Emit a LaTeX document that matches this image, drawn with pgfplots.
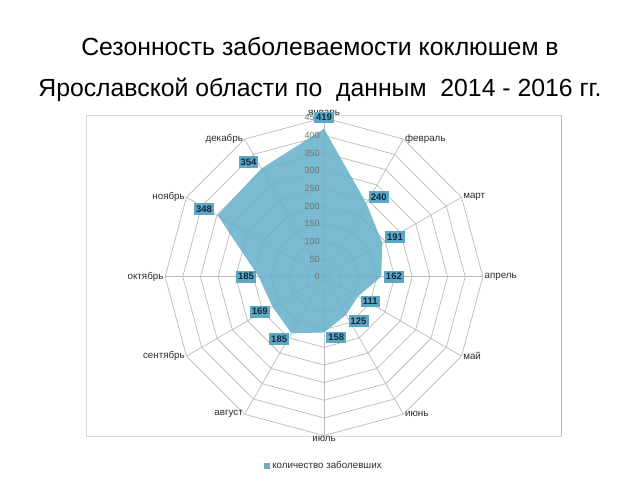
\documentclass[border=0pt]{standalone}
\usepackage{pgfplots}
\pgfplotsset{compat=1.18}
\usepackage{fontspec}
\setmainfont{Liberation Sans}
\definecolor{fillc}{RGB}{104,178,203}
\definecolor{lblc}{RGB}{92,168,194}
\definecolor{txtc}{RGB}{20,38,66}
\definecolor{gridc}{RGB}{190,190,190}
\definecolor{catc}{RGB}{45,45,45}
\begin{document}
\begin{tikzpicture}[x=1pt,y=1pt]
\fill[white] (0,0) rectangle (640,480);
% chart frame
\draw[gray!30, line width=0.8pt] (86,365) rectangle (561,44);
\draw[gray!55, line width=0.8pt] (561,365) -- (561,44);
% title
\node[align=center, font=\fontsize{24.8}{41}\selectfont, text=black] at (320,410.5)
  {Сезонность заболеваемости коклюшем в\\Ярославской области по\ \ данным\ \ 2014 - 2016 гг.};
\begin{axis}[
  at={(324pt,203.3pt)}, anchor=center,
  x=0.353pt, y=0.353pt,
  xmin=-450, xmax=450, ymin=-450, ymax=450,
  hide axis, clip=false, no markers,
  legend style={at={(0.5,-0.095)}, anchor=center, draw=none, fill=none,
    font=\fontsize{9.8}{11}\selectfont, text=catc, inner sep=0pt,
    legend cell align=left},
  legend image code/.code={\fill[fillc!90!black] (0pt,-3pt) rectangle (6pt,3pt);},
]
% spokes
\pgfplotsinvokeforeach{0,30,...,330}{
  \addplot[gridc, line width=0.75pt, data cs=polar, forget plot] coordinates {(0,0) (#1,450)};
}
% rings
\pgfplotsinvokeforeach{50,100,...,450}{
  \addplot[gridc, line width=0.75pt, data cs=polar, forget plot] coordinates {
    (90,#1) (60,#1) (30,#1) (0,#1) (-30,#1) (-60,#1) (-90,#1) (-120,#1) (-150,#1) (180,#1) (150,#1) (120,#1) (90,#1)};
}
% data
\addplot[draw=none, fill=fillc, fill opacity=0.88, data cs=polar] coordinates {
  (90,419) (60,240) (30,191) (0,162) (-30,111) (-60,125) (-90,158)
  (-120,185) (-150,169) (180,185) (150,348) (120,354) (90,419)};
\addlegendentry{количество заболевших}
% radial tick labels
\pgfplotsinvokeforeach{0,50,...,450}{
  \node[anchor=east, font=\fontsize{9}{10}\selectfont, text=black!55, inner sep=0pt] at (axis cs:-12,#1) {#1};
}
% category labels
\begin{scope}[font=\fontsize{9.8}{11}\selectfont, text=catc, inner sep=1.5pt]
\node[anchor=south, inner sep=0.5pt] at (axis cs:0,450) {январь};
\node[anchor=west] at (axis cs:225,389.7) {февраль};
\node[anchor=west] at (axis cs:389.7,225) {март};
\node[anchor=west] at (axis cs:450,0) {апрель};
\node[anchor=west] at (axis cs:389.7,-225) {май};
\node[anchor=west] at (axis cs:225,-389.7) {июнь};
\node[anchor=north, inner sep=0.5pt] at (axis cs:0,-450) {июль};
\node[anchor=east] at (axis cs:-225,-389.7) {август};
\node[anchor=east] at (axis cs:-389.7,-225) {сентябрь};
\node[anchor=east] at (axis cs:-450,0) {октябрь};
\node[anchor=east] at (axis cs:-389.7,225) {ноябрь};
\node[anchor=east] at (axis cs:-225,389.7) {декабрь};
\end{scope}
% data labels
\begin{scope}[every node/.style={fill=lblc, text=txtc, font=\bfseries\fontsize{9.5}{10}\selectfont, inner xsep=2pt, inner ysep=2.5pt}]
\node at (axis cs:0,451) {419};
\node at (axis cs:155,225) {240};
\node at (axis cs:201,113) {191};
\node at (axis cs:198,0) {162};
\node at (axis cs:131,-70) {111};
\node at (axis cs:98,-125) {125};
\node at (axis cs:35,-172) {158};
\node at (axis cs:-127,-176) {185};
\node at (axis cs:-182,-99) {169};
\node at (axis cs:-221,0) {185};
\node at (axis cs:-340,191) {348};
\node at (axis cs:-214,324) {354};
\end{scope}
\end{axis}
\pgfresetboundingbox
\useasboundingbox (0,0) rectangle (640,480);
\end{tikzpicture}
\end{document}
